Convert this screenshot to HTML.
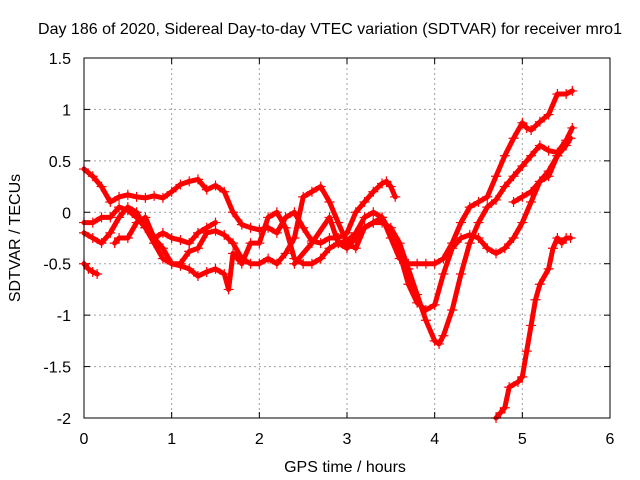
<!DOCTYPE html>
<html><head><meta charset="utf-8"><style>
body{margin:0;background:#fff;}
svg{display:block;font-family:"Liberation Sans",sans-serif;}
</style></head><body>
<svg id="chart" width="640" height="480">
<text x="330" y="34" font-size="16" text-anchor="middle">Day 186 of 2020, Sidereal Day-to-day VTEC variation (SDTVAR) for receiver mro1</text>
<g id="grid"></g>
<g id="axes"></g>
<g id="series"></g>
<rect x="84" y="58" width="526" height="360" fill="none" stroke="#000" stroke-width="1"/>
<text x="345" y="472" font-size="16" text-anchor="middle">GPS time / hours</text>
<text transform="translate(20,238) rotate(-90)" font-size="16" text-anchor="middle">SDTVAR / TECUs</text>
</svg>
<script>
const xTicks=[0,1,2,3,4,5,6];
const yTicks=[1.5,1,0.5,0,-0.5,-1,-1.5,-2];
const yTickLabels=["1.5","1","0.5","0","-0.5","-1","-1.5","-2"];
const s1T=[0,0.1,0.2,0.3,0.4,0.5,0.6,0.7,0.8,0.9,1.0,1.1,1.2,1.3,1.4,1.5,1.6,1.7,1.8,1.9,2.0,2.1,2.2,2.3,2.4,2.5,2.6,2.7,2.8,2.9,3.0,3.1,3.2,3.3,3.4,3.45,3.5,3.55];
const s1V=[0.42,0.35,0.25,0.1,0.15,0.17,0.15,0.14,0.16,0.14,0.2,0.27,0.3,0.32,0.22,0.26,0.2,0.0,-0.12,-0.15,-0.17,-0.15,-0.2,-0.05,0.0,-0.15,-0.28,-0.3,-0.25,-0.25,-0.2,0.0,0.1,0.2,0.28,0.3,0.25,0.15];
const s2T=[0,0.1,0.2,0.3,0.4,0.5,0.6,0.7,0.8,0.9,1.0,1.1,1.2,1.3,1.4,1.5,1.6,1.65,1.7,1.8,1.9,2.0,2.1,2.2,2.3,2.4,2.5,2.6,2.7,2.8,2.9,3.0,3.1,3.2,3.3,3.4,3.5,3.6,3.7,3.8,3.9,4.0,4.1,4.2,4.3,4.4,4.5,4.6,4.7,4.8,4.9,5.0,5.1,5.2,5.3,5.4,5.5,5.55];
const s2V=[-0.1,-0.1,-0.05,-0.05,0.05,0.02,-0.05,-0.15,-0.25,-0.35,-0.5,-0.52,-0.55,-0.62,-0.58,-0.55,-0.6,-0.75,-0.4,-0.5,-0.3,-0.3,-0.05,0.0,-0.15,-0.45,-0.5,-0.5,-0.45,-0.35,-0.3,-0.28,-0.2,-0.05,0.0,-0.05,-0.2,-0.4,-0.7,-0.88,-0.95,-0.9,-0.6,-0.35,-0.25,-0.22,-0.25,-0.35,-0.4,-0.35,-0.25,-0.1,0.1,0.3,0.4,0.55,0.65,0.72];
const s3T=[0,0.1,0.2,0.3,0.4,0.5,0.6,0.7,0.8,0.9,1.0,1.1,1.2,1.3,1.4,1.5,1.6,1.7,1.8,1.9,2.0,2.1,2.2,2.3,2.4,2.5,2.6,2.7,2.8,2.9,3.0,3.1,3.2,3.3,3.4,3.5,3.6,3.7,3.8,3.9,4.0,4.1,4.2,4.3,4.4,4.5,4.6,4.7,4.8,4.9,5.0,5.05,5.1,5.2,5.3,5.4,5.5,5.57];
const s3V=[-0.2,-0.25,-0.3,-0.2,-0.05,0.05,0.0,-0.15,-0.3,-0.45,-0.5,-0.5,-0.38,-0.35,-0.2,-0.18,-0.22,-0.3,-0.45,-0.5,-0.5,-0.45,-0.5,-0.4,-0.25,0.15,0.2,0.25,0.1,-0.1,-0.3,-0.35,-0.15,-0.1,-0.05,-0.25,-0.45,-0.5,-0.5,-0.5,-0.5,-0.45,-0.3,-0.1,0.05,0.1,0.15,0.35,0.55,0.72,0.87,0.82,0.8,0.88,0.95,1.15,1.15,1.18];
const s4T=[0.35,0.4,0.5,0.6,0.7,0.8,0.9,1.0,1.1,1.2,1.3,1.4,1.5];
const s4V=[-0.3,-0.25,-0.25,-0.1,-0.05,-0.25,-0.2,-0.25,-0.27,-0.3,-0.2,-0.15,-0.1];
const s5T=[2.4,2.6,2.8,2.9,3.0,3.1,3.2,3.3,3.4,3.5,3.6,3.7,3.8,3.9,4.0,4.05,4.1,4.2,4.3,4.4,4.5,4.6,4.7,4.8,4.9,5.0,5.1,5.2,5.3,5.4,5.5,5.57];
const s5V=[-0.5,-0.3,-0.05,-0.3,-0.35,-0.25,-0.15,-0.1,-0.1,-0.15,-0.3,-0.55,-0.8,-1.05,-1.25,-1.28,-1.2,-0.95,-0.6,-0.3,-0.1,0.05,0.12,0.25,0.35,0.45,0.55,0.65,0.6,0.58,0.7,0.82];
const s6T=[4.9,5.0,5.1,5.2,5.3,5.4,5.5];
const s6V=[0.1,0.15,0.2,0.3,0.35,0.55,0.68];
const s7T=[0,0.05,0.1,0.15];
const s7V=[-0.5,-0.55,-0.58,-0.6];
const s8T=[4.7,4.75,4.8,4.85,4.95,5.0,5.05,5.1,5.15,5.2,5.3,5.35,5.4,5.45,5.5,5.55];
const s8V=[-2.0,-1.95,-1.9,-1.7,-1.65,-1.6,-1.35,-1.1,-0.85,-0.7,-0.55,-0.35,-0.25,-0.3,-0.25,-0.25];
const seriesT=[s1T,s2T,s3T,s4T,s5T,s6T,s7T,s8T];
const seriesV=[s1V,s2V,s3V,s4V,s5V,s6V,s7V,s8V];

const X0=84,X1=610,Y0=418,Y1=58;
function xs(t){return X0+(t-0)/6*(X1-X0);}
function ys(v){return Y0-(v+2)/3.5*(Y0-Y1);}
const NS='http://www.w3.org/2000/svg';
function mk(tag,attrs,parent){const e=document.createElementNS(NS,tag);for(const k in attrs)e.setAttribute(k,attrs[k]);parent.appendChild(e);return e;}
const grid=document.getElementById('grid'),axes=document.getElementById('axes'),ser=document.getElementById('series');
xTicks.forEach((t,i)=>{
  const x=xs(t);
  if(i>0&&i<xTicks.length-1){const g=mk('line',{x1:x,x2:x,y1:Y1,y2:Y0,stroke:'#a0a0a0','stroke-dasharray':'2,3'},grid);
  
  }
  mk('line',{x1:x,x2:x,y1:Y0,y2:Y0-6,stroke:'#000'},axes);
  mk('line',{x1:x,x2:x,y1:Y1,y2:Y1+6,stroke:'#000'},axes);
  const l=mk('text',{x:x,y:444,'font-size':16,'text-anchor':'middle'},axes);l.textContent=String(t);
  
  
});
yTicks.forEach((v,i)=>{
  const y=ys(v);
  if(i>0&&i<yTicks.length-1){const g=mk('line',{x1:X0,x2:X1,y1:y,y2:y,stroke:'#a0a0a0','stroke-dasharray':'2,3'},grid);
  
  }
  mk('line',{x1:X0,x2:X0+6,y1:y,y2:y,stroke:'#000'},axes);
  mk('line',{x1:X1,x2:X1-6,y1:y,y2:y,stroke:'#000'},axes);
  const l=mk('text',{x:71,y:y+6,'font-size':16,'text-anchor':'end'},axes);l.textContent=yTickLabels[i];
  
  
});
seriesT.forEach((T,si)=>{
  const V=seriesV[si];
  const pts=T.map((t,i)=>xs(t).toFixed(1)+','+ys(V[i]).toFixed(1)).join(' ');
  const pl=mk('polyline',{points:pts,fill:'none',stroke:'#f00','stroke-width':5,'stroke-linejoin':'round','stroke-linecap':'round'},ser);
  
  
  T.forEach((t,i)=>{
    const x=xs(t),y=ys(V[i]);
    const p=mk('path',{d:`M${x-5},${y}H${x+5}M${x},${y-5}V${y+5}`,stroke:'#f00','stroke-width':1.2},ser);
    
    
  });
});
</script>
</body></html>
